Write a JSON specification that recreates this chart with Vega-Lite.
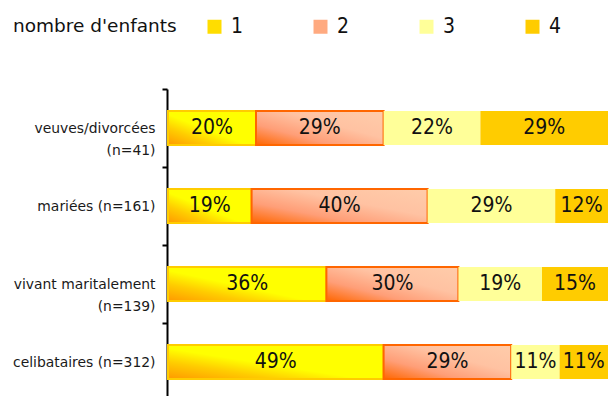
{
  "$schema": "https://vega.github.io/schema/vega-lite/v6.json",
  "width": 440,
  "height": 307,
  "autosize": "none",
  "padding": {"left": 168, "top": 89, "right": 0, "bottom": 0},
  "background": "white",
  "config": {"view": {"stroke": null}, "font": "DejaVu Sans"},
  "data": {
    "values": [
      {"statut": "veuves/divorcées (n=41)", "enfants": "1", "part": 0.20},
      {"statut": "veuves/divorcées (n=41)", "enfants": "2", "part": 0.29},
      {"statut": "veuves/divorcées (n=41)", "enfants": "3", "part": 0.22},
      {"statut": "veuves/divorcées (n=41)", "enfants": "4", "part": 0.29},
      {"statut": "mariées (n=161)", "enfants": "1", "part": 0.19},
      {"statut": "mariées (n=161)", "enfants": "2", "part": 0.40},
      {"statut": "mariées (n=161)", "enfants": "3", "part": 0.29},
      {"statut": "mariées (n=161)", "enfants": "4", "part": 0.12},
      {"statut": "vivant maritalement (n=139)", "enfants": "1", "part": 0.36},
      {"statut": "vivant maritalement (n=139)", "enfants": "2", "part": 0.30},
      {"statut": "vivant maritalement (n=139)", "enfants": "3", "part": 0.19},
      {"statut": "vivant maritalement (n=139)", "enfants": "4", "part": 0.15},
      {"statut": "celibataires (n=312)", "enfants": "1", "part": 0.49},
      {"statut": "celibataires (n=312)", "enfants": "2", "part": 0.29},
      {"statut": "celibataires (n=312)", "enfants": "3", "part": 0.11},
      {"statut": "celibataires (n=312)", "enfants": "4", "part": 0.11}
    ]
  },
  "encoding": {
    "y": {
      "field": "statut",
      "type": "nominal",
      "sort": ["veuves/divorcées (n=41)", "mariées (n=161)", "vivant maritalement (n=139)", "celibataires (n=312)"],
      "scale": {"range": [0, 312], "paddingInner": 0, "paddingOuter": 0},
      "title": null,
      "axis": {
        "offset": 1,
        "domainColor": "#000000",
        "domainWidth": 2,
        "tickBand": "extent",
        "tickColor": "#000000",
        "tickWidth": 2,
        "tickSize": 5,
        "grid": false,
        "labelPadding": 7,
        "labelFont": "DejaVu Sans",
        "labelFontSize": 13.9,
        "labelColor": "#1a1a1a",
        "labelLimit": 300,
        "labelLineHeight": 22.6,
        "labelExpr": "length(datum.label) > 21 ? [substring(datum.label, 0, indexof(datum.label, ' (')), substring(datum.label, indexof(datum.label, ' (') + 1)] : datum.label"
      }
    },
    "x": {"field": "part", "type": "quantitative", "stack": "zero", "scale": {"domain": [0, 1]}, "axis": null},
    "order": {"field": "enfants", "sort": "ascending"}
  },
  "layer": [
    {
      "mark": {"type": "bar", "height": {"band": 0.436}, "strokeWidth": 2},
      "encoding": {
        "fill": {
          "condition": [
            {
              "test": "datum.enfants == '1'",
              "value": {
                "gradient": "linear", "x1": 0, "y1": 1, "x2": 1, "y2": 0,
                "stops": [
                  {"offset": 0, "color": "#FF9900"},
                  {"offset": 0.25, "color": "#FFCC00"},
                  {"offset": 0.45, "color": "#FFFF00"},
                  {"offset": 1, "color": "#FFFF00"}
                ]
              }
            },
            {
              "test": "datum.enfants == '2'",
              "value": {
                "gradient": "linear", "x1": 0, "y1": 1, "x2": 1, "y2": 0,
                "stops": [
                  {"offset": 0, "color": "#FF6600"},
                  {"offset": 0.3, "color": "#FF9E77"},
                  {"offset": 0.6, "color": "#FFC2A2"},
                  {"offset": 1, "color": "#FFCCAA"}
                ]
              }
            }
          ],
          "field": "enfants",
          "type": "nominal",
          "scale": {"domain": ["1", "2", "3", "4"], "range": ["#FFDD00", "#FFAA80", "#FFFF99", "#FFCC00"]},
          "legend": {
            "orient": "none",
            "legendX": -155,
            "legendY": -73,
            "direction": "horizontal",
            "columns": 4,
            "title": "nombre d'enfants",
            "titleOrient": "left",
            "titleFont": "DejaVu Sans",
            "titleFontSize": 18.5,
            "titleFontWeight": "normal",
            "titleColor": "#111111",
            "titlePadding": 27,
            "symbolType": "square",
            "symbolSize": 196,
            "symbolStrokeWidth": 1.5,
            "labelFont": "DejaVu Sans Condensed, Roboto",
            "labelFontSize": 21,
            "labelColor": "#111111",
            "labelOffset": 6,
            "columnPadding": 66
          }
        },
        "stroke": {
          "condition": [
            {"test": "datum.enfants == '1'", "value": "#FFCC00"},
            {"test": "datum.enfants == '2'", "value": "#FF6600"}
          ],
          "value": null
        }
      }
    },
    {
      "mark": {"type": "text", "font": "DejaVu Sans Condensed, Roboto", "fontSize": 21, "color": "#111111", "baseline": "middle"},
      "encoding": {
        "x": {"field": "part", "type": "quantitative", "stack": "zero", "bandPosition": 0.5},
        "detail": {"field": "enfants"},
        "text": {"field": "part", "format": ".0%"}
      }
    }
  ]
}
